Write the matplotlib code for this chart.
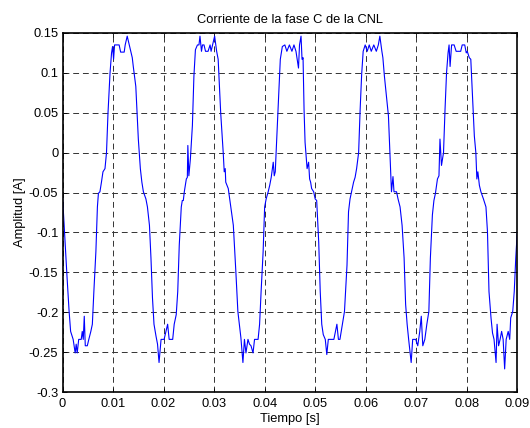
import numpy as np
import matplotlib
matplotlib.use('Agg')
import matplotlib.pyplot as plt

plt.rcParams.update({'font.size': 9.3, 'font.family': ['Liberation Sans', 'DejaVu Sans']})

# values (time [s], current [A])
t = [0.0000, 0.0006, 0.0009, 0.0013, 0.0016, 0.0021, 0.0025, 0.0027, 0.0029, 0.0032,
     0.0037, 0.0039, 0.0041, 0.0043, 0.0045, 0.0049, 0.0052, 0.0056, 0.0059, 0.0062,
     0.0066, 0.0069, 0.0071, 0.0074, 0.0077, 0.0080, 0.0084, 0.0087, 0.0090, 0.0094,
     0.0097, 0.0099, 0.0101, 0.0103, 0.0112, 0.0115, 0.0122, 0.0124, 0.0128, 0.0132,
     0.0135, 0.0138, 0.0140, 0.0145, 0.0150, 0.0154, 0.0157, 0.0160, 0.0165, 0.0168,
     0.0172, 0.0175, 0.0178, 0.0181, 0.0185, 0.0188, 0.0191, 0.0195, 0.0201, 0.0208,
     0.0211, 0.0218, 0.0221, 0.0225, 0.0228, 0.0231, 0.0235, 0.0237, 0.0239, 0.0241,
     0.0245, 0.0247, 0.0248, 0.0250, 0.0253, 0.0257, 0.0260, 0.0263, 0.0267, 0.0270,
     0.0272, 0.0275, 0.0277, 0.0280, 0.0283, 0.0288, 0.0292, 0.0294, 0.0297, 0.0301,
     0.0305, 0.0308, 0.0313, 0.0318, 0.0320, 0.0322, 0.0323, 0.0328, 0.0333, 0.0338,
     0.0343, 0.0347, 0.0350, 0.0353, 0.0357, 0.0360, 0.0363, 0.0367, 0.0370, 0.0373,
     0.0377, 0.0380, 0.0387, 0.0390, 0.0393, 0.0397, 0.0400, 0.0403, 0.0407, 0.0410,
     0.0413, 0.0417, 0.0419, 0.0421, 0.0425, 0.0428, 0.0431, 0.0435, 0.0440, 0.0444,
     0.0449, 0.0454, 0.0458, 0.0462, 0.0467, 0.0469, 0.0472, 0.0474, 0.0476, 0.0478,
     0.0480, 0.0484, 0.0487, 0.0489, 0.0491, 0.0493, 0.0497, 0.0500, 0.0503, 0.0507,
     0.0510, 0.0513, 0.0516, 0.0520, 0.0523, 0.0526, 0.0530, 0.0537, 0.0543, 0.0546,
     0.0549, 0.0554, 0.0558, 0.0563, 0.0566, 0.0569, 0.0572, 0.0576, 0.0579, 0.0582,
     0.0586, 0.0589, 0.0592, 0.0595, 0.0599, 0.0603, 0.0607, 0.0611, 0.0616, 0.0621,
     0.0625, 0.0628, 0.0632, 0.0634, 0.0637, 0.0645, 0.0648, 0.0651, 0.0654, 0.0656,
     0.0661, 0.0664, 0.0668, 0.0672, 0.0676, 0.0679, 0.0682, 0.0685, 0.0690, 0.0693,
     0.0699, 0.0703, 0.0707, 0.0710, 0.0713, 0.0717, 0.0721, 0.0725, 0.0728, 0.0732,
     0.0735, 0.0738, 0.0742, 0.0745, 0.0747, 0.0750, 0.0754, 0.0757, 0.0760, 0.0763,
     0.0765, 0.0767, 0.0770, 0.0775, 0.0779, 0.0788, 0.0791, 0.0796, 0.0799, 0.0801,
     0.0805, 0.0808, 0.0811, 0.0815, 0.0818, 0.0820, 0.0822, 0.0825, 0.0828, 0.0833,
     0.0838, 0.0841, 0.0844, 0.0848, 0.0851, 0.0854, 0.0858, 0.0860, 0.0863, 0.0866,
     0.0869, 0.0872, 0.0875, 0.0878, 0.0882, 0.0885, 0.0887, 0.0891, 0.0894, 0.0897,
     0.0900]
corriente = [-0.055, -0.124, -0.157, -0.199, -0.224, -0.234, -0.251, -0.240, -0.251, -0.234,
             -0.234, -0.224, -0.234, -0.205, -0.242, -0.242, -0.234, -0.224, -0.215, -0.174,
             -0.124, -0.068, -0.051, -0.049, -0.037, -0.024, -0.020, 0.000, 0.050, 0.100,
             0.125, 0.133, 0.117, 0.135, 0.135, 0.126, 0.126, 0.135, 0.146, 0.135,
             0.127, 0.119, 0.108, 0.083, 0.017, -0.020, -0.037, -0.049, -0.058, -0.068,
             -0.091, -0.132, -0.182, -0.215, -0.230, -0.240, -0.263, -0.234, -0.234, -0.215,
             -0.234, -0.234, -0.215, -0.203, -0.174, -0.116, -0.068, -0.060, -0.060, -0.049,
             -0.033, -0.031, 0.009, -0.029, -0.008, 0.034, 0.096, 0.129, 0.135, 0.135,
             0.146, 0.127, 0.135, 0.135, 0.127, 0.127, 0.135, 0.127, 0.135, 0.146,
             0.127, 0.117, 0.050, 0.000, -0.024, -0.020, -0.037, -0.045, -0.068, -0.091,
             -0.149, -0.199, -0.215, -0.232, -0.263, -0.234, -0.251, -0.234, -0.240, -0.242,
             -0.251, -0.234, -0.234, -0.215, -0.174, -0.124, -0.068, -0.058, -0.049, -0.041,
             -0.031, -0.012, -0.029, -0.024, 0.034, 0.075, 0.117, 0.133, 0.135, 0.127,
             0.135, 0.127, 0.135, 0.127, 0.106, 0.135, 0.146, 0.117, 0.119, 0.054,
             0.013, -0.020, -0.012, -0.033, -0.037, -0.045, -0.049, -0.058, -0.060, -0.112,
             -0.174, -0.215, -0.228, -0.234, -0.253, -0.234, -0.234, -0.234, -0.215, -0.234,
             -0.234, -0.215, -0.199, -0.141, -0.074, -0.058, -0.049, -0.037, -0.031, -0.020,
             0.000, 0.054, 0.098, 0.127, 0.135, 0.127, 0.135, 0.127, 0.135, 0.127,
             0.135, 0.146, 0.127, 0.119, 0.096, 0.046, 0.000, -0.049, -0.030, -0.049,
             -0.049, -0.058, -0.068, -0.091, -0.132, -0.190, -0.215, -0.234, -0.263, -0.234,
             -0.234, -0.242, -0.224, -0.205, -0.242, -0.234, -0.215, -0.199, -0.132, -0.078,
             -0.060, -0.051, -0.033, -0.029, 0.017, -0.016, 0.000, 0.054, 0.100, 0.125,
             0.135, 0.108, 0.135, 0.135, 0.127, 0.127, 0.135, 0.135, 0.125, 0.127,
             0.119, 0.117, 0.075, 0.021, 0.000, -0.033, -0.024, -0.041, -0.049, -0.058,
             -0.068, -0.099, -0.174, -0.207, -0.226, -0.234, -0.263, -0.215, -0.242, -0.234,
             -0.224, -0.234, -0.271, -0.234, -0.224, -0.234, -0.207, -0.199, -0.174, -0.132,
             -0.099]

xticks = [0, 0.01, 0.02, 0.03, 0.04, 0.05, 0.06, 0.07, 0.08, 0.09]
xticklabels = ['0', '0.01', '0.02', '0.03', '0.04', '0.05', '0.06', '0.07', '0.08', '0.09']
yticks = [-0.3, -0.25, -0.2, -0.15, -0.1, -0.05, 0, 0.05, 0.1, 0.15]
yticklabels = ['-0.3', '-0.25', '-0.2', '-0.15', '-0.1', '-0.05', '0', '0.05', '0.1', '0.15']

fig = plt.figure(figsize=(5.3, 4.28), dpi=100)
ax = fig.add_axes([0.118, 0.084, 0.858, 0.839])
ax.plot(t, corriente, color='#0000ff', lw=0.8)
ax.set_xlim(0, 0.09)
ax.set_ylim(-0.3, 0.15)
ax.set_xticks(xticks)
ax.set_xticklabels(xticklabels)
ax.set_yticks(yticks)
ax.set_yticklabels(yticklabels)
ax.tick_params(direction='in', top=True, right=True, length=3, width=0.6)
ax.tick_params(axis='x', pad=4)
ax.tick_params(axis='y', pad=3)
ax.grid(True, color='#333333', lw=0.7, linestyle=(0, (6, 4)))
for s in ax.spines.values():
    s.set_linewidth(1.2)
ax.set_title('Corriente de la fase C de la CNL', fontsize=9.3, pad=7)
ax.set_xlabel('Tiempo [s]', labelpad=2.5)
ax.set_ylabel('Amplitud [A]', labelpad=2)
fig.savefig('out.png', dpi=100)
